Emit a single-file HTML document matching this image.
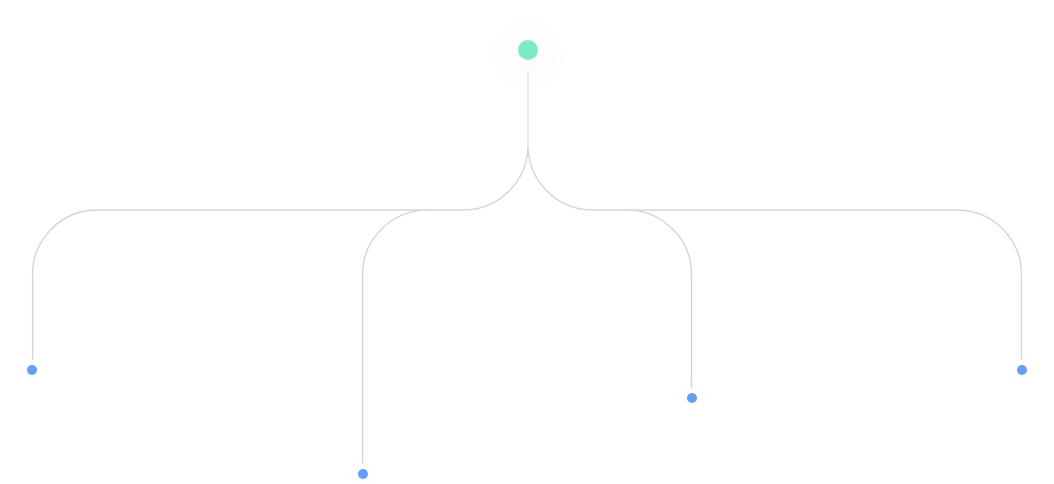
<!DOCTYPE html>
<html lang="en">
<head>
<meta charset="utf-8">
<title>Tree diagram</title>
<style>
  html, body { margin: 0; padding: 0; background: #ffffff; font-family: "Liberation Sans", sans-serif; }
  body { width: 1054px; height: 484px; overflow: hidden; position: relative; }
  svg { position: absolute; left: 0; top: 0; display: block; }
  .link { fill: none; stroke: #d3d5d9; stroke-width: 1.4; }
  .trunk { stroke-width: 0.92; }
  .root { fill: #7eeac0; }
  .leaf { fill: #669ef5; }
  .halo { fill: url(#haloGrad); }
  .halo.small { opacity: 0.55; }
</style>
</head>
<body>
<svg width="1054" height="484" viewBox="0 0 1054 484">
  <defs>
    <radialGradient id="haloGrad">
      <stop offset="0" stop-color="#000000" stop-opacity="0.012"/>
      <stop offset="0.6" stop-color="#000000" stop-opacity="0.008"/>
      <stop offset="1" stop-color="#000000" stop-opacity="0"/>
    </radialGradient>
    <clipPath id="clipB"><rect x="0" y="210.7" width="1054" height="300"/></clipPath>
    <clipPath id="clipL"><rect x="0" y="0" width="528" height="484"/></clipPath>
    <clipPath id="clipR"><rect x="528" y="0" width="526" height="484"/></clipPath>
  </defs>
  <circle class="halo" cx="528" cy="54" r="42"/>
  <circle class="halo small" cx="32" cy="370" r="20"/>
  <circle class="halo small" cx="363" cy="474" r="20"/>
  <circle class="halo small" cx="692" cy="398" r="20"/>
  <circle class="halo small" cx="1022" cy="370" r="20"/>
  <g class="links">
    <path class="link trunk" d="M528 70 V145.5"/>
    <path class="link" clip-path="url(#clipL)" d="M528 145.5 A64.5 64.5 0 0 1 463.5 210 H97.1 A64.5 64.5 0 0 0 32.6 274.5 V360"/>
    <path class="link" clip-path="url(#clipB)" d="M427.1 210 A64.5 64.5 0 0 0 362.6 274.5 V464"/>
    <path class="link" clip-path="url(#clipR)" d="M528 145.5 A64.5 64.5 0 0 0 592.5 210 H957 A64.5 64.5 0 0 1 1021.5 274.5 V360"/>
    <path class="link" clip-path="url(#clipB)" d="M627 210 A64.5 64.5 0 0 1 691.5 274.5 V388"/>
  </g>
  <circle class="root" cx="528" cy="50" r="10"/>
  <circle class="leaf" cx="32" cy="370" r="5"/>
  <circle class="leaf" cx="363" cy="474" r="5"/>
  <circle class="leaf" cx="692" cy="398" r="5"/>
  <circle class="leaf" cx="1022" cy="370" r="5"/>
</svg>
</body>
</html>
